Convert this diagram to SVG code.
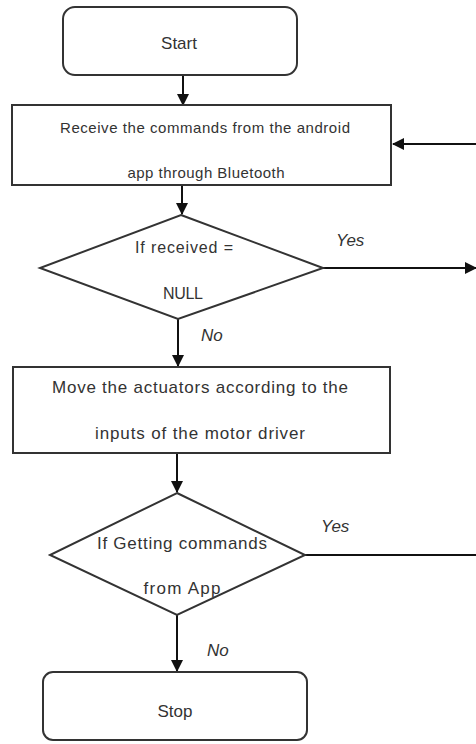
<svg xmlns="http://www.w3.org/2000/svg" width="476" height="744" viewBox="0 0 476 744">
<defs>
<marker id="ah" markerWidth="12" markerHeight="12" refX="11" refY="6" orient="auto" markerUnits="userSpaceOnUse">
<path d="M0,0 L12,6 L0,12 Z" fill="#111"/>
</marker>
<style>
.box{fill:#fff;stroke:#333;stroke-width:2}
.con{fill:none;stroke:#111;stroke-width:2}
.t{font-family:"Liberation Sans",Arial,sans-serif;font-size:16px;fill:#333;text-anchor:middle;dominant-baseline:central}
.s{font-size:15px}
.b{font-size:17px}
.lbl{font-family:"Liberation Sans",Arial,sans-serif;font-size:17px;font-style:italic;fill:#333;dominant-baseline:central}
</style>
</defs>
<rect width="476" height="744" fill="#fff"/>
<g id="connectors">
<path class="con" d="M183,75 L183,105" marker-end="url(#ah)"/>
<path class="con" d="M182,185 L182,214" marker-end="url(#ah)"/>
<path class="con" d="M476,144 L393,144" marker-end="url(#ah)"/>
<path class="con" d="M323,268 L476,268" marker-end="url(#ah)"/>
<path class="con" d="M178,319 L178,366" marker-end="url(#ah)"/>
<path class="con" d="M177,453 L177,492" marker-end="url(#ah)"/>
<path class="con" d="M305,555 L476,555"/>
<path class="con" d="M177,615 L177,671" marker-end="url(#ah)"/>
<text class="lbl" x="336" y="240">Yes</text>
<text class="lbl" x="201" y="335">No</text>
<text class="lbl" x="321" y="526">Yes</text>
<text class="lbl" x="207" y="650">No</text>
</g>
<g id="start">
<rect class="box" x="63" y="7" width="234" height="68" rx="12"/>
<text class="t b" x="179" y="43">Start</text>
</g>
<g id="receive">
<rect class="box" x="12" y="105" width="379" height="80"/>
<text class="t s" x="205" y="127" textLength="290" lengthAdjust="spacing">Receive the commands from the android</text>
<text class="t s" x="206" y="172" textLength="157" lengthAdjust="spacing">app through Bluetooth</text>
</g>
<g id="check-null">
<polygon class="box" points="181,215 323,268 178,319 40,268"/>
<text class="t" x="184" y="247" textLength="98" lengthAdjust="spacing">If received =</text>
<text class="t" x="183" y="293" textLength="40" lengthAdjust="spacing">NULL</text>
</g>
<g id="move">
<rect class="box" x="13" y="367" width="377" height="86"/>
<text class="t b" x="200" y="387" textLength="296" lengthAdjust="spacing">Move the actuators according to the</text>
<text class="t b" x="200" y="433" textLength="210" lengthAdjust="spacing">inputs of the motor driver</text>
</g>
<g id="check-app">
<polygon class="box" points="177,493 305,555 177,615 50,555"/>
<text class="t b" x="182" y="543" textLength="170" lengthAdjust="spacing">If Getting commands</text>
<text class="t b" x="182" y="588" textLength="77" lengthAdjust="spacing">from App</text>
</g>
<g id="stop">
<rect class="box" x="43" y="672" width="264" height="68" rx="10"/>
<text class="t b" x="175" y="711">Stop</text>
</g>
</svg>
